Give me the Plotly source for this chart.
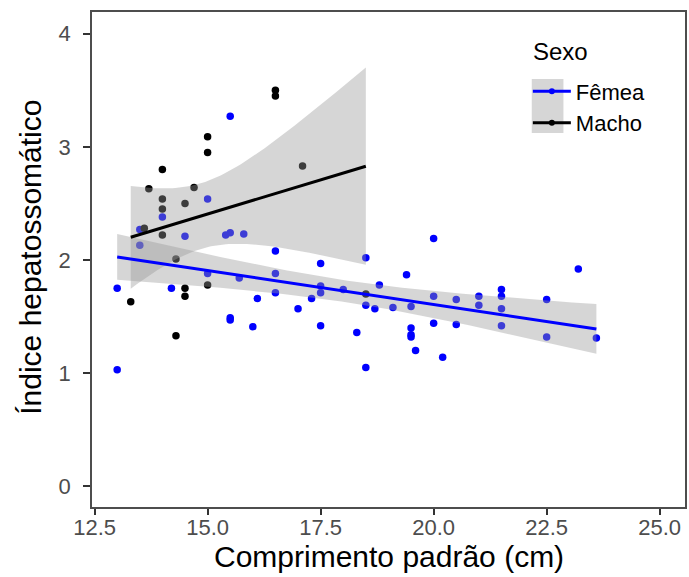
import numpy as np
import plotly.graph_objects as go

# ---- data ----
femea_x = [13.0, 13.0, 13.5, 13.5, 14.0, 14.2, 14.5, 15.0, 15.0, 15.4, 15.5, 15.5, 15.5, 15.5,
           15.7, 15.8, 16.0, 16.1, 16.5, 16.5, 16.5, 17.0, 17.3, 17.5, 17.5, 17.5, 17.5, 18.0,
           18.3, 18.5, 18.5, 18.5, 18.7, 18.8, 19.1, 19.4, 19.5, 19.5, 19.5, 19.5, 19.6, 20.0,
           20.0, 20.0, 20.2, 20.5, 20.5, 21.0, 21.0, 21.5, 21.5, 21.5, 21.5, 22.5, 22.5, 23.2, 23.6]
femea_y = [1.75, 1.03, 2.27, 2.13, 2.38, 1.75, 2.21, 2.54, 1.88, 2.22, 2.24, 3.27, 1.49, 1.47,
           1.84, 2.23, 1.41, 1.66, 2.08, 1.88, 1.71, 1.57, 1.66, 1.97, 1.77, 1.71, 1.42, 1.74,
           1.36, 2.02, 1.60, 1.05, 1.57, 1.78, 1.58, 1.87, 1.59, 1.40, 1.34, 1.32, 1.20, 2.19,
           1.68, 1.44, 1.14, 1.65, 1.43, 1.68, 1.60, 1.74, 1.68, 1.57, 1.42, 1.65, 1.32, 1.92, 1.31]

macho_x = [13.3, 13.6, 13.7, 14.0, 14.0, 14.0, 14.0, 14.3, 14.3, 14.5, 14.5, 14.5, 14.7, 15.0,
           15.0, 15.0, 16.5, 16.5, 17.1, 18.5]
macho_y = [1.63, 2.28, 2.63, 2.80, 2.54, 2.45, 2.22, 2.01, 1.33, 2.50, 1.75, 1.68, 2.64, 3.09,
           2.95, 1.78, 3.50, 3.45, 2.83, 1.70]

x_ticks = [12.5, 15.0, 17.5, 20.0, 22.5, 25.0]
y_ticks = [0, 1, 2, 3, 4]

series = [
    ("Fêmea", femea_x, femea_y, "#0000FF"),
    ("Macho", macho_x, macho_y, "#000000"),
]


def t_quantile(df, z=1.959963985):
    return (z + (z**3 + z) / (4 * df) + (5 * z**5 + 16 * z**3 + 3 * z) / (96 * df**2)
            + (3 * z**7 + 19 * z**5 + 17 * z**3 - 15 * z) / (384 * df**3))


def lm_fit(x, y, n_out=80):
    x = np.asarray(x, float)
    y = np.asarray(y, float)
    n = len(x)
    b1, b0 = np.polyfit(x, y, 1)
    res = y - (b0 + b1 * x)
    s2 = np.sum(res**2) / (n - 2)
    xm = x.mean()
    sxx = np.sum((x - xm) ** 2)
    xs = np.linspace(x.min(), x.max(), n_out)
    yh = b0 + b1 * xs
    se = np.sqrt(s2 * (1.0 / n + (xs - xm) ** 2 / sxx))
    t = t_quantile(n - 2)
    return xs, yh, yh - t * se, yh + t * se


FONT = "Liberation Sans, Arial, sans-serif"
fig = go.Figure()

# points
for name, xs, ys, col in series:
    fig.add_trace(go.Scatter(x=xs, y=ys, mode="markers", name=name, showlegend=False,
                             marker=dict(color=col, size=7.5, line=dict(width=0))))

# ribbons
for name, xs, ys, col in series:
    fx, fy, lo, hi = lm_fit(xs, ys)
    fig.add_trace(go.Scatter(x=np.concatenate([fx, fx[::-1]]),
                             y=np.concatenate([hi, lo[::-1]]),
                             fill="toself", fillcolor="rgba(153,153,153,0.4)",
                             line=dict(width=0), mode="lines", hoverinfo="skip",
                             showlegend=False))

# fitted lines + legend entries
for name, xs, ys, col in series:
    fx, fy, lo, hi = lm_fit(xs, ys)
    fig.add_trace(go.Scatter(x=fx, y=fy, mode="lines", name=name, showlegend=False,
                             line=dict(color=col, width=3)))
    fig.add_trace(go.Scatter(x=[None], y=[None], mode="lines+markers", name=name,
                             line=dict(color=col, width=3),
                             marker=dict(color=col, size=6)))

axis_common = dict(showgrid=False, zeroline=False, showline=True, mirror=True,
                   linecolor="#4D4D4D", linewidth=1.5, ticks="outside",
                   tickwidth=2, tickcolor="#333333",
                   tickfont=dict(family=FONT, size=22, color="#4D4D4D"))

fig.update_layout(
    width=689, height=577,
    margin=dict(l=92, r=2, t=12, b=70),
    paper_bgcolor="white", plot_bgcolor="white",
    font=dict(family=FONT, color="black"),
    xaxis=dict(range=[12.443, 25.56], tickvals=x_ticks, ticklen=6,
               ticklabelstandoff=-6,
               ticktext=[f"{v:.1f}" for v in x_ticks], **axis_common),
    yaxis=dict(range=[-0.183, 4.192], tickvals=y_ticks, ticklen=7,
               ticktext=[str(v) for v in y_ticks], ticklabelstandoff=8, **axis_common),
    legend=dict(x=0.735, y=0.882, xanchor="left", yanchor="top",
                bgcolor="rgba(0,0,0,0)", itemwidth=38,
                font=dict(size=22, color="black"), tracegroupgap=0),
    shapes=[dict(type="rect", xref="paper", yref="paper",
                 x0=0.7416, x1=0.795, y0=0.7556, y1=0.8646,
                 fillcolor="#D6D6D6", line=dict(width=0), layer="above")],
    annotations=[
        dict(text="Sexo", xref="paper", yref="paper", x=0.740, y=0.921,
             xanchor="left", yanchor="middle", showarrow=False,
             font=dict(size=24, color="black")),
        dict(text="Comprimento padrão (cm)", xref="paper", yref="paper",
             x=0.5, y=-0.1, xanchor="center", yanchor="middle", showarrow=False,
             font=dict(size=30, color="black")),
        dict(text="Índice hepatossomático", xref="paper", yref="paper",
             x=-0.105, y=0.505, xanchor="center", yanchor="middle", showarrow=False,
             textangle=-90, font=dict(size=30, color="black")),
    ],
)

fig.write_html("out.html")
